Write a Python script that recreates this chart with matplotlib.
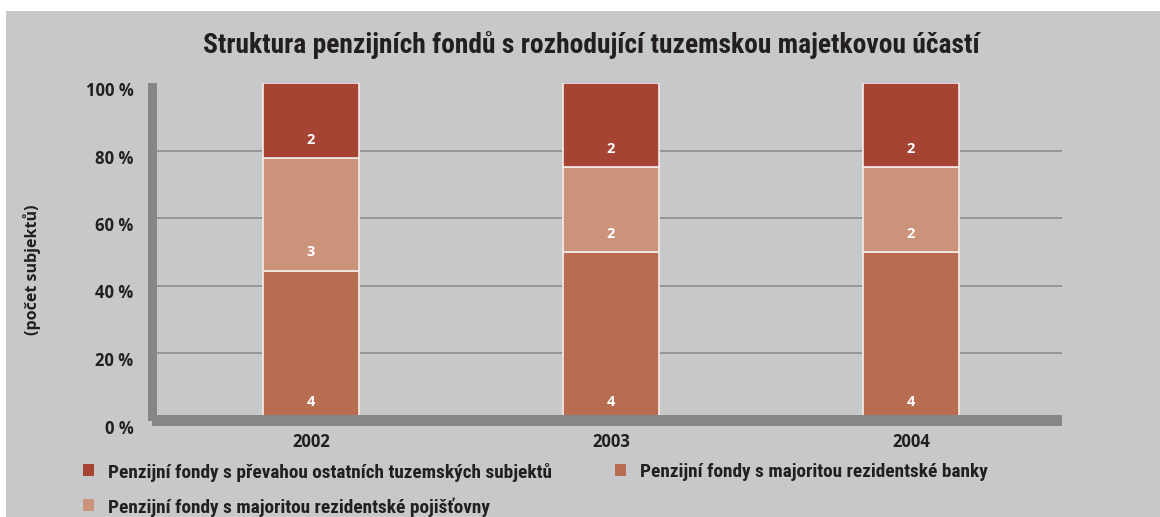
import matplotlib
matplotlib.use("Agg")
import matplotlib.pyplot as plt
from matplotlib.patches import Rectangle
from matplotlib.transforms import ScaledTranslation
from matplotlib import font_manager
import numpy as np

# ---- data ----
years = ["2002", "2003", "2004"]
banky = [4, 4, 4]          # Penzijní fondy s majoritou rezidentské banky
pojistovny = [3, 2, 2]     # Penzijní fondy s majoritou rezidentské pojišťovny
ostatni = [2, 2, 2]        # Penzijní fondy s převahou ostatních tuzemských subjektů
series_names = [
    "Penzijní fondy s majoritou rezidentské banky",
    "Penzijní fondy s majoritou rezidentské pojišťovny",
    "Penzijní fondy s převahou ostatních tuzemských subjektů",
]
yticks = [0, 20, 40, 60, 80, 100]
ytick_labels = ["0 %", "20 %", "40 %", "60 %", "80 %", "100 %"]
title = "Struktura penzijních fondů s rozhodující tuzemskou majetkovou účastí"
ylabel = "(počet subjektů)"

colors = ["#b86c52", "#cc937b", "#a54433"]
BG = "#c7c8ca"
WALL = "#858688"
GRID = "#8d8e90"
TXT = "#231f20"
WIDE = ["Open Sans", "DejaVu Sans"]

names = {f.name for f in font_manager.fontManager.ttflist}
cond = [f for f in font_manager.fontManager.ttflist
        if ("Condensed" in f.name or "Narrow" in f.name or
            (isinstance(f.stretch, (int, float)) and f.stretch < 500) or
            (isinstance(f.stretch, str) and "condensed" in f.stretch))]
NARROW_FAMILY = None
for cand in ["Liberation Sans Narrow", "Roboto Condensed", "Open Sans Condensed",
             "DejaVu Sans Condensed", "Noto Sans Condensed"]:
    if cand in names:
        NARROW_FAMILY = cand
        break
if NARROW_FAMILY is None:
    for f in cond:
        NARROW_FAMILY = f.name
        break
if NARROW_FAMILY is None:
    NARROW = dict(family=["Roboto", "DejaVu Sans"])
    TSCALE = 0.85
else:
    NARROW = dict(family=[NARROW_FAMILY, "DejaVu Sans"], stretch="condensed")
    TSCALE = 1.0

W, H = 1160, 517
fig = plt.figure(figsize=(W / 100, H / 100), dpi=100, facecolor="white")
fig.add_artist(Rectangle((6 / W, 0), 1 - 6 / W, 1 - 11 / H, transform=fig.transFigure,
                         facecolor=BG, edgecolor="none", zorder=0))

def px(x, y):
    return (x / W, 1 - y / H)

ax_l, ax_r, ax_t, ax_b = 157, 1062, 83, 420.5
ax = fig.add_axes([ax_l / W, (H - ax_b) / H, (ax_r - ax_l) / W, (ax_b - ax_t) / H])
ax.set_facecolor("none")
for s in ax.spines.values():
    s.set_visible(False)

# 3D-like wall and floor
fig.add_artist(Rectangle(px(148, 420.5), 9 / W, (420.5 - 83) / H, transform=fig.transFigure,
                         facecolor=WALL, edgecolor="none", zorder=1))
fig.add_artist(Rectangle(px(152, 426), (1062 - 152) / W, 11 / H, transform=fig.transFigure,
                         facecolor=WALL, edgecolor="none", zorder=1))

x = np.arange(len(years))
data = [np.array(banky, float), np.array(pojistovny, float), np.array(ostatni, float)]
total = sum(data)
pct = [d / total * 100 for d in data]

ax.set_xlim(-0.513, 2.503)
ax.set_ylim(0, 100)
for g in yticks[1:-1]:
    ax.axhline(g, color=GRID, lw=1.2, zorder=1)

bottom = np.zeros(len(years))
for vals, p, c in zip(data, pct, colors):
    ax.bar(x, p, bottom=bottom, width=0.32, color=c, edgecolor="#f4ece8", linewidth=1.2,
           zorder=3)
    for xi, b, v in zip(x, bottom, vals):
        ax.annotate(f"{int(v)}", (xi, b), xytext=(0, 13), textcoords="offset points",
                    ha="center", va="center", color="white", fontsize=10.5,
                    fontweight="bold", family=WIDE, zorder=4)
    bottom = bottom + p

ax.set_yticks(yticks)
ax.set_yticklabels(ytick_labels, fontsize=12, fontweight="bold", family=WIDE, color=TXT)
ax.set_xticks(x)
ax.set_xticklabels(years, fontsize=12, fontweight="bold", family=WIDE, color=TXT)
ax.tick_params(axis="y", length=0, pad=17)
ax.tick_params(axis="x", length=0, pad=9)
off = ScaledTranslation(0, -6 / 100, fig.dpi_scale_trans)
for lab in ax.get_yticklabels():
    lab.set_transform(lab.get_transform() + off)

fig.text(*px(591, 45), title, ha="center", va="center", fontsize=19.8 * TSCALE,
         fontweight="bold", color=TXT, **NARROW)
fig.text(*px(32, 270), ylabel, ha="center", va="center", rotation=90, fontsize=11.5,
         fontweight="bold", family=WIDE, color=TXT)

# legend (manual)
leg_order = [2, 0, 1]
leg_pos = [(83, 470), (615, 470), (83, 505)]
for idx, (lx, ly) in zip(leg_order, leg_pos):
    fig.add_artist(Rectangle(px(lx, ly + 6), 11 / W, 12 / H, transform=fig.transFigure,
                             facecolor=colors[idx], edgecolor="none", zorder=2))
    fig.text(*px(lx + 25, ly + 2), series_names[idx], ha="left", va="center",
             fontsize=13.9 * TSCALE, fontweight="bold", color=TXT, **NARROW)

fig.savefig("out.png", dpi=100, facecolor="white")
